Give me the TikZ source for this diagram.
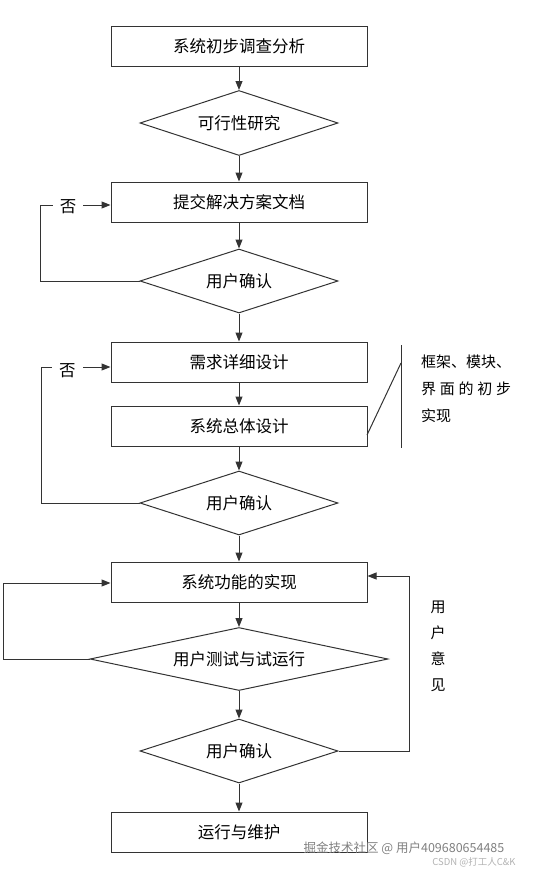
\documentclass[tikz,border=0pt]{standalone}
\usepackage{fontspec}
\setmainfont{Noto Sans CJK SC}
\usetikzlibrary{shapes.geometric,arrows.meta}

\begin{document}
\begin{tikzpicture}[
    x=1pt, y=-1pt,
    every node/.style={font=\fontsize{16.5}{20}\selectfont},
    block/.style={rectangle, draw=black!80, line width=1pt, minimum width=256pt, minimum height=40pt, inner sep=0pt},
    decision/.style={diamond, aspect=3, draw=black!80, line width=1pt, minimum width=198pt, minimum height=64pt, inner sep=0pt},
    wide decision/.style={decision, aspect=4.7, minimum width=298pt, minimum height=63pt},
    flow/.style={draw=black!80, line width=1pt, -{Triangle[length=9pt,width=7pt]}},
    back/.style={draw=black!80, line width=1pt},
    nolabel/.style={fill=white, inner xsep=7pt, inner ysep=1pt},
    note/.style={font=\fontsize{15}{27}\selectfont, align=left, inner sep=0pt},
    vnote/.style={font=\fontsize{15}{26}\selectfont, align=center, inner sep=0pt},
    wmark/.style={font=\fontsize{12.5}{14}\selectfont, text=black!50, inner sep=0pt},
    wmark small/.style={font=\fontsize{9.5}{11}\selectfont, text=black!30, inner sep=0pt}
]
\useasboundingbox (0,0) rectangle (551,873);

\node[block] (survey) at (239,46) {系统初步调查分析};
\node[decision, minimum height=65pt] (feasible) at (239,123) {可行性研究};
\node[block] (proposal) at (239,202) {提交解决方案文档};
\node[decision] (confirm1) at (239,281) {用户确认};
\node[block] (require) at (239,362) {需求详细设计};
\node[block] (design) at (239,426) {系统总体设计};
\node[decision] (confirm2) at (239,503) {用户确认};
\node[block] (build) at (239,582) {系统功能的实现};
\node[wide decision] (trial) at (239,659) {用户测试与试运行};
\node[decision] (confirm3) at (239,751) {用户确认};
\node[block] (operate) at (239,832) {运行与维护};

\draw[flow] (survey.south) -- (feasible.north);
\draw[flow] (feasible.south) -- (proposal.north);
\draw[flow] (proposal.south) -- (confirm1.north);
\draw[flow] (confirm1.south) -- (require.north);
\draw[flow] (require.south) -- (design.north);
\draw[flow] (design.south) -- (confirm2.north);
\draw[flow] (confirm2.south) -- (build.north);
\draw[flow] (build.south) -- (trial.north);
\draw[flow] (trial.south) -- (confirm3.north);
\draw[flow] (confirm3.south) -- (operate.north);

\coordinate (turn1) at (40,205);
\coordinate (turn2) at (41,367);
\coordinate (turn3) at (3,583);
\coordinate (turn4) at (409,576);
\draw[flow] (confirm1.west) -| (turn1) -- node[nolabel, pos=0.4, yshift=-2pt] {否} (turn1 -| proposal.west);
\draw[flow] (confirm2.west) -| (turn2) -- node[nolabel, pos=0.38, yshift=-4pt] {否} (turn2 -| require.west);
\draw[flow] (trial.west) -| (turn3) -- (turn3 -| build.west);
\draw[flow] (confirm3.east) -| (turn4) -- (turn4 -| build.east);
\node[vnote] (opinion) at (438,646) {用\\户\\意\\见};

\coordinate (brace top) at (401,345);
\coordinate (brace bottom) at (401,448);
\coordinate (brace knee) at (401,363);
\coordinate (brace tip) at (367,435);
\draw[back] (brace top) -- (brace bottom);
\draw[back] (brace knee) -- (brace tip);
\node[note, anchor=north west] (framework) at (421,355) {框架、模块、\\\makebox[90pt][s]{界\hfill 面\hfill 的\hfill 初\hfill 步}\\实现};

\node[wmark] (juejin) at (404,848) {掘金技术社区 @ 用户409680654485};
\node[wmark small] (csdn) at (474,862) {CSDN @打工人C\&K};
\end{tikzpicture}
\end{document}
